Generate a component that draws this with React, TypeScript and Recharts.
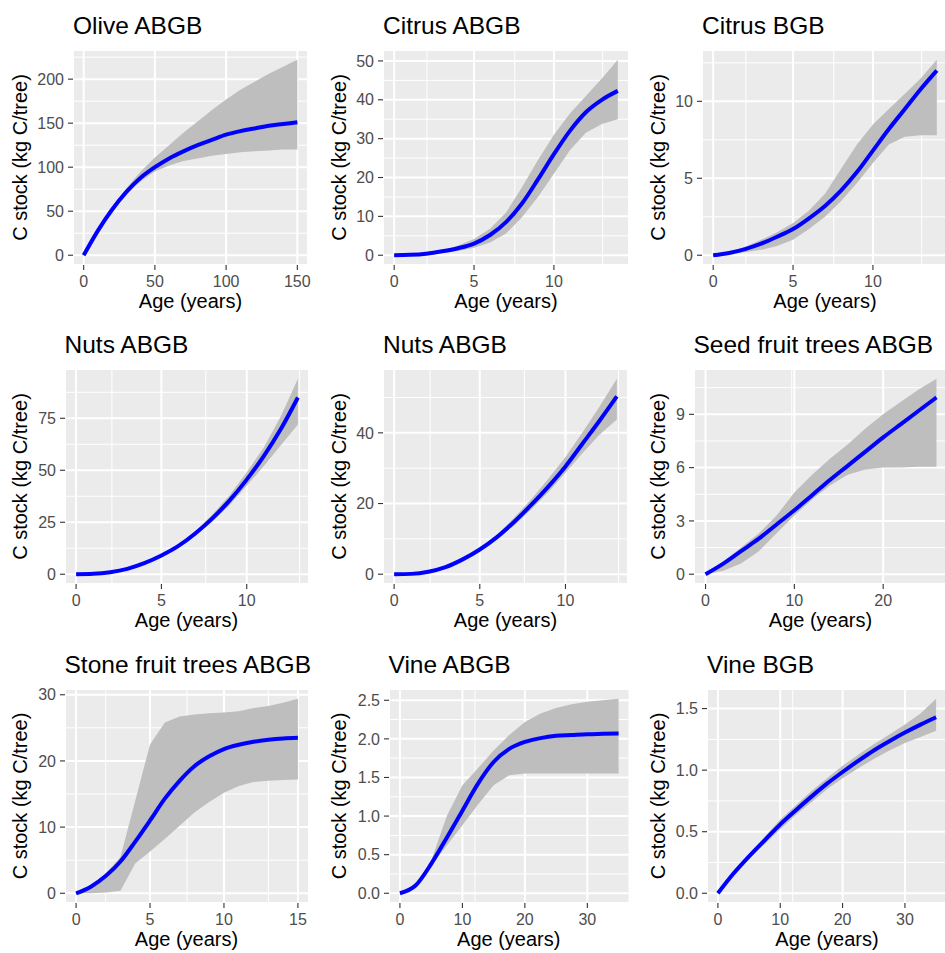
import React from "react";
import { ComposedChart, Area, Line, XAxis, YAxis, CartesianGrid } from "recharts";

// values
const oliveAge = [0, 10, 20, 30, 40, 50, 60, 70, 80, 90, 100, 110, 120, 130, 140, 150];
const oliveMean = [0, 28, 52, 72, 88, 100, 110, 118, 125, 131, 137, 141, 144, 147, 149, 151];
const oliveLow = [0, 27, 50, 69, 84, 95, 102, 107, 110, 113, 115, 117, 118, 119, 120, 120];
const oliveHigh = [0, 29, 54, 76, 95, 111, 125, 139, 152, 165, 177, 188, 197, 206, 214, 222];

const citrusAge = [0, 1, 2, 3, 4, 5, 6, 7, 8, 9, 10, 11, 12, 13, 14];
const citrusMean = [0, 0.1, 0.4, 1.0, 1.8, 3.0, 5.2, 8.5, 13.3, 19.5, 26, 32, 36.8, 40, 42.3];
const citrusLow = [0, 0.05, 0.25, 0.6, 1.1, 1.9, 3.3, 5.6, 9.8, 15, 21, 27, 31.5, 33.8, 35];
const citrusHigh = [0, 0.15, 0.55, 1.3, 2.5, 4.2, 6.8, 11, 17.5, 24.5, 31, 36.5, 41, 45.5, 50.3];

const citrusBgbMean = [0, 0.15, 0.4, 0.75, 1.2, 1.7, 2.4, 3.2, 4.2, 5.4, 6.8, 8.2, 9.5, 10.8, 12];
const citrusBgbLow = [0, 0.1, 0.2, 0.35, 0.6, 1.0, 1.7, 2.5, 3.5, 4.7, 6.0, 7.2, 7.7, 7.8, 7.8];
const citrusBgbHigh = [0, 0.2, 0.55, 1.0, 1.5, 2.1, 2.9, 4.0, 5.6, 7.2, 8.5, 9.5, 10.5, 11.5, 12.7];

const nutsAge = [0, 1, 2, 3, 4, 5, 6, 7, 8, 9, 10, 11, 12, 13];
const nutsMean = [0, 0.2, 1.0, 2.6, 5.3, 9, 13.6, 19.7, 27, 35.5, 45.5, 56.8, 69.8, 85];
const nutsLow = [0, 0.2, 0.9, 2.4, 5.0, 8.6, 12.9, 18.6, 25.3, 33.3, 42.5, 52, 62, 72];
const nutsHigh = [0, 0.2, 1.1, 2.8, 5.6, 9.5, 14.4, 20.9, 28.8, 38, 49, 61, 76, 94];

const nuts2Mean = [0, 0.1, 0.7, 2, 4.2, 7, 10.5, 14.8, 19.6, 24.8, 30.5, 37, 43.5, 50.3];
const nuts2Low = [0, 0.1, 0.6, 1.8, 3.9, 6.6, 9.9, 13.8, 18.3, 23.2, 28.7, 34.3, 39.5, 43.8];
const nuts2High = [0, 0.1, 0.8, 2.2, 4.5, 7.4, 11.2, 16, 21.2, 27, 33.2, 40.2, 47.5, 55.3];

const seedAge = [0, 2, 4, 6, 8, 10, 12, 14, 16, 18, 20, 22, 24, 26];
const seedMean = [0, 0.6, 1.3, 2.0, 2.8, 3.6, 4.45, 5.3, 6.1, 6.9, 7.7, 8.45, 9.2, 9.95];
const seedLow = [0, 0.2, 0.6, 1.3, 2.3, 3.3, 4.2, 5.0, 5.6, 5.9, 6.0, 6.0, 6.05, 6.05];
const seedHigh = [0, 0.7, 1.5, 2.3, 3.3, 4.6, 5.6, 6.5, 7.3, 8.2, 9.0, 9.7, 10.4, 11];

const stoneAge = [0, 1, 2, 3, 4, 5, 6, 7, 8, 9, 10, 11, 12, 13, 14, 15];
const stoneMean = [0, 1.0, 2.6, 4.8, 7.8, 11, 14.3, 17, 19.2, 20.7, 21.8, 22.45, 22.9, 23.2, 23.4, 23.5];
const stoneLow = [0, 0, 0.1, 0.4, 4.5, 6.3, 8.2, 10.2, 12.2, 13.8, 15.2, 16.2, 16.8, 17, 17.1, 17.2];
const stoneHigh = [0, 1.2, 3, 5.5, 14, 22.5, 25.8, 26.7, 27, 27.2, 27.3, 27.5, 28, 28.3, 28.8, 29.4];

const vineAge = [0, 2.5, 5, 7.5, 10, 12.5, 15, 17.5, 20, 22.5, 25, 27.5, 30, 32.5, 35];
const vineMean = [0, 0.1, 0.38, 0.72, 1.07, 1.42, 1.7, 1.87, 1.96, 2.01, 2.04, 2.05, 2.06, 2.065, 2.07];
const vineLow = [0, 0.08, 0.35, 0.62, 0.88, 1.15, 1.4, 1.53, 1.55, 1.55, 1.55, 1.55, 1.55, 1.55, 1.55];
const vineHigh = [0, 0.12, 0.42, 1.0, 1.4, 1.62, 1.85, 2.05, 2.22, 2.33, 2.4, 2.45, 2.48, 2.5, 2.52];

const vineBgbMean = [0, 0.16, 0.3, 0.43, 0.56, 0.675, 0.785, 0.89, 0.985, 1.075, 1.16, 1.235, 1.305, 1.37, 1.43];
const vineBgbLow = [0, 0.15, 0.28, 0.4, 0.52, 0.635, 0.74, 0.845, 0.935, 1.015, 1.09, 1.16, 1.22, 1.27, 1.32];
const vineBgbHigh = [0, 0.17, 0.32, 0.46, 0.6, 0.715, 0.83, 0.935, 1.035, 1.125, 1.21, 1.29, 1.37, 1.46, 1.58];

const xTitle = "Age (years)";
const yTitle = "C stock (kg C/tree)";

const FONT = "'Liberation Sans', Arial, Helvetica, sans-serif";
const YW = 50;
const XH = 32;
const MT = 12;
const MR = 24;

function rows(age: number[], mean: number[], low: number[], high: number[]) {
  return age.map((a, i) => ({ age: a, mean: mean[i], band: [low[i], high[i]] }));
}

const oneDec = (v: number) => v.toFixed(1);

const panels = [
  {
    title: "Olive ABGB", data: rows(oliveAge, oliveMean, oliveLow, oliveHigh),
    xDomain: [-7.5, 157.5], xTicks: [0, 50, 100, 150], xMinor: [25, 75, 125],
    yDomain: [-11.1, 233.1], yTicks: [0, 50, 100, 150, 200], yMinor: [25, 75, 125, 175, 225],
    left: 73, top: 50, w: 235, h: 215, yLab: 26.5,
  },
  {
    title: "Citrus ABGB", data: rows(citrusAge, citrusMean, citrusLow, citrusHigh),
    xDomain: [-0.7, 14.7], xTicks: [0, 5, 10], xMinor: [2.5, 7.5, 12.5],
    yDomain: [-2.515, 52.815], yTicks: [0, 10, 20, 30, 40, 50], yMinor: [5, 15, 25, 35, 45],
    left: 383, top: 50, w: 246, h: 215, yLab: 346,
  },
  {
    title: "Citrus BGB", data: rows(citrusAge, citrusBgbMean, citrusBgbLow, citrusBgbHigh),
    xDomain: [-0.7, 14.7], xTicks: [0, 5, 10], xMinor: [2.5, 7.5, 12.5],
    yDomain: [-0.635, 13.335], yTicks: [0, 5, 10], yMinor: [2.5, 7.5, 12.5],
    left: 702, top: 50, w: 246, h: 215, yLab: 665,
  },
  {
    title: "Nuts ABGB", data: rows(nutsAge, nutsMean, nutsLow, nutsHigh),
    xDomain: [-0.65, 13.65], xTicks: [0, 5, 10], xMinor: [2.5, 7.5, 12.5],
    yDomain: [-4.7, 98.7], yTicks: [0, 25, 50, 75], yMinor: [12.5, 37.5, 62.5, 87.5],
    left: 64.5, top: 369, w: 244, h: 215, yLab: 26.5,
  },
  {
    title: "Nuts ABGB", data: rows(nutsAge, nuts2Mean, nuts2Low, nuts2High),
    xDomain: [-0.65, 13.65], xTicks: [0, 5, 10], xMinor: [2.5, 7.5, 12.5],
    yDomain: [-2.765, 58.065], yTicks: [0, 20, 40], yMinor: [10, 30, 50],
    left: 383, top: 369, w: 245, h: 215, yLab: 346,
  },
  {
    title: "Seed fruit trees ABGB", data: rows(seedAge, seedMean, seedLow, seedHigh),
    xDomain: [-1.3, 27.3], xTicks: [0, 10, 20], xMinor: [5, 15, 25],
    yDomain: [-0.55, 11.55], yTicks: [0, 3, 6, 9], yMinor: [1.5, 4.5, 7.5, 10.5],
    left: 693.5, top: 369, w: 254, h: 215, yLab: 665,
  },
  {
    title: "Stone fruit trees ABGB", data: rows(stoneAge, stoneMean, stoneLow, stoneHigh),
    xDomain: [-0.75, 15.75], xTicks: [0, 5, 10, 15], xMinor: [2.5, 7.5, 12.5],
    yDomain: [-1.47, 30.87], yTicks: [0, 10, 20, 30], yMinor: [5, 15, 25],
    left: 64.5, top: 689, w: 244, h: 214, yLab: 26.5,
  },
  {
    title: "Vine ABGB", data: rows(vineAge, vineMean, vineLow, vineHigh),
    xDomain: [-1.75, 36.75], xTicks: [0, 10, 20, 30], xMinor: [5, 15, 25, 35],
    yDomain: [-0.126, 2.646], yTicks: [0, 0.5, 1, 1.5, 2, 2.5], yMinor: [0.25, 0.75, 1.25, 1.75, 2.25],
    left: 388.5, top: 689, w: 240.5, h: 214, yLab: 346, fmt: oneDec,
  },
  {
    title: "Vine BGB", data: rows(vineAge, vineBgbMean, vineBgbLow, vineBgbHigh),
    xDomain: [-1.75, 36.75], xTicks: [0, 10, 20, 30], xMinor: [5, 15, 25, 35],
    yDomain: [-0.079, 1.659], yTicks: [0, 0.5, 1, 1.5], yMinor: [0.25, 0.75, 1.25],
    left: 707, top: 689, w: 240, h: 214, yLab: 665, fmt: oneDec,
  },
];

const tickStyle = { fill: "#4D4D4D", fontSize: 16, fontFamily: FONT };
const tickLineStyle = { stroke: "#333333", strokeWidth: 1.1 };

function Panel({ p }: { p: any }) {
  return (
    <div style={{ position: "absolute", left: p.left - YW, top: p.top - MT }}>
      <ComposedChart
        width={YW + p.w + MR}
        height={MT + p.h + XH}
        data={p.data}
        margin={{ top: MT, right: MR, bottom: 0, left: 0 }}
      >
        <CartesianGrid fill="#EBEBEB" fillOpacity={1} stroke="#FFFFFF" strokeWidth={2} />
        <CartesianGrid xAxisId="minor" yAxisId="minor" stroke="#FFFFFF" strokeWidth={1} />
        <XAxis
          dataKey="age"
          type="number"
          domain={p.xDomain}
          ticks={p.xTicks}
          allowDataOverflow
          height={XH}
          axisLine={false}
          tickSize={5}
          tickMargin={6}
          tick={tickStyle}
          tickLine={tickLineStyle}
          interval={0}
        />
        <XAxis xAxisId="minor" type="number" domain={p.xDomain} ticks={p.xMinor} allowDataOverflow hide />
        <YAxis
          type="number"
          domain={p.yDomain}
          ticks={p.yTicks}
          allowDataOverflow
          width={YW}
          axisLine={false}
          tickSize={5}
          tickMargin={4}
          tick={tickStyle}
          tickLine={tickLineStyle}
          tickFormatter={p.fmt}
          interval={0}
        />
        <YAxis yAxisId="minor" type="number" domain={p.yDomain} ticks={p.yMinor} allowDataOverflow hide />
        <Area
          dataKey="band"
          type="linear"
          fill="#BEBEBE"
          fillOpacity={1}
          stroke="none"
          isAnimationActive={false}
          activeDot={false}
        />
        <Line
          dataKey="mean"
          type="monotone"
          stroke="#0000FF"
          strokeWidth={4}
          dot={false}
          activeDot={false}
          isAnimationActive={false}
        />
      </ComposedChart>
    </div>
  );
}

export default function App() {
  return (
    <div
      style={{
        position: "absolute",
        left: 0,
        top: 0,
        width: 945,
        height: 953,
        overflow: "hidden",
        background: "#FFFFFF",
        fontFamily: FONT,
      }}
    >
      {panels.map((p, i) => (
        <Panel key={i} p={p} />
      ))}
      <svg
        width={945}
        height={953}
        style={{ position: "absolute", left: 0, top: 0, pointerEvents: "none" }}
      >
        {panels.map((p, i) => (
          <g key={i} fontFamily={FONT} fill="#000000">
            <text x={p.left} y={p.top - 16.5} fontSize={24.5}>
              {p.title}
            </text>
            <text x={p.left + p.w / 2} y={p.top + p.h + 43} fontSize={20} textAnchor="middle">
              {xTitle}
            </text>
            <text
              x={p.yLab}
              y={p.top + p.h / 2}
              fontSize={20}
              textAnchor="middle"
              transform={`rotate(-90 ${p.yLab} ${p.top + p.h / 2})`}
            >
              {yTitle}
            </text>
          </g>
        ))}
      </svg>
    </div>
  );
}
